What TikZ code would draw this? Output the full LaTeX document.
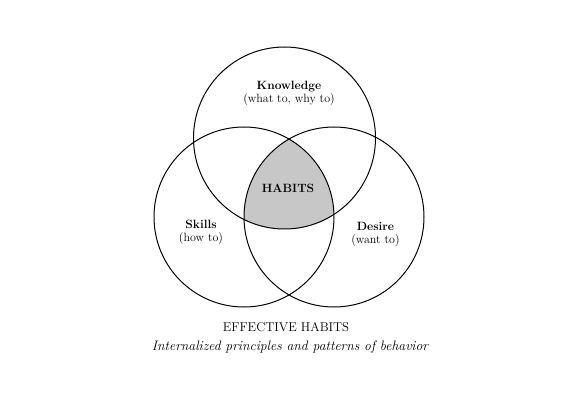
\documentclass[tikz,border=0pt]{standalone}
\begin{document}
\begin{tikzpicture}[x=1pt,y=-1pt,
  ring/.style={draw=black,line width=1pt},
  lbl/.style={font=\fontsize{12}{13}\selectfont,align=center,inner sep=0pt},
  captxt/.style={font=\fontsize{12.8}{14}\selectfont,inner sep=0pt},
  subtxt/.style={font=\fontsize{13.7}{15}\selectfont\itshape,inner sep=0pt}]
\useasboundingbox (0,0) rectangle (570,403);
\fill[white] (0,0) rectangle (570,403);
\coordinate (ck) at (284.5,138);
\coordinate (cs) at (244,217);
\coordinate (cd) at (334,217);
\begin{scope}
  \clip (ck) circle (91);
  \clip (cs) circle (90);
  \fill[black!22] (cd) circle (90);
\end{scope}
\draw[ring] (ck) circle (91);
\draw[ring] (cs) circle (90);
\draw[ring] (cd) circle (90);
\node[lbl] (know) at (289,93.5) {\textbf{Knowledge}\\(what to, why to)};
\node[lbl] (hab) at (288,188) {\textbf{HABITS}};
\node[lbl] (skl) at (201,232.5) {\textbf{Skills}\\(how to)};
\node[lbl] (des) at (375.5,234.5) {\textbf{Desire}\\(want to)};
\node[captxt] (t1) at (286,327) {EFFECTIVE HABITS};
\node[subtxt] (t2) at (290,347) {Internalized principles and patterns of behavior};
\end{tikzpicture}
\end{document}
